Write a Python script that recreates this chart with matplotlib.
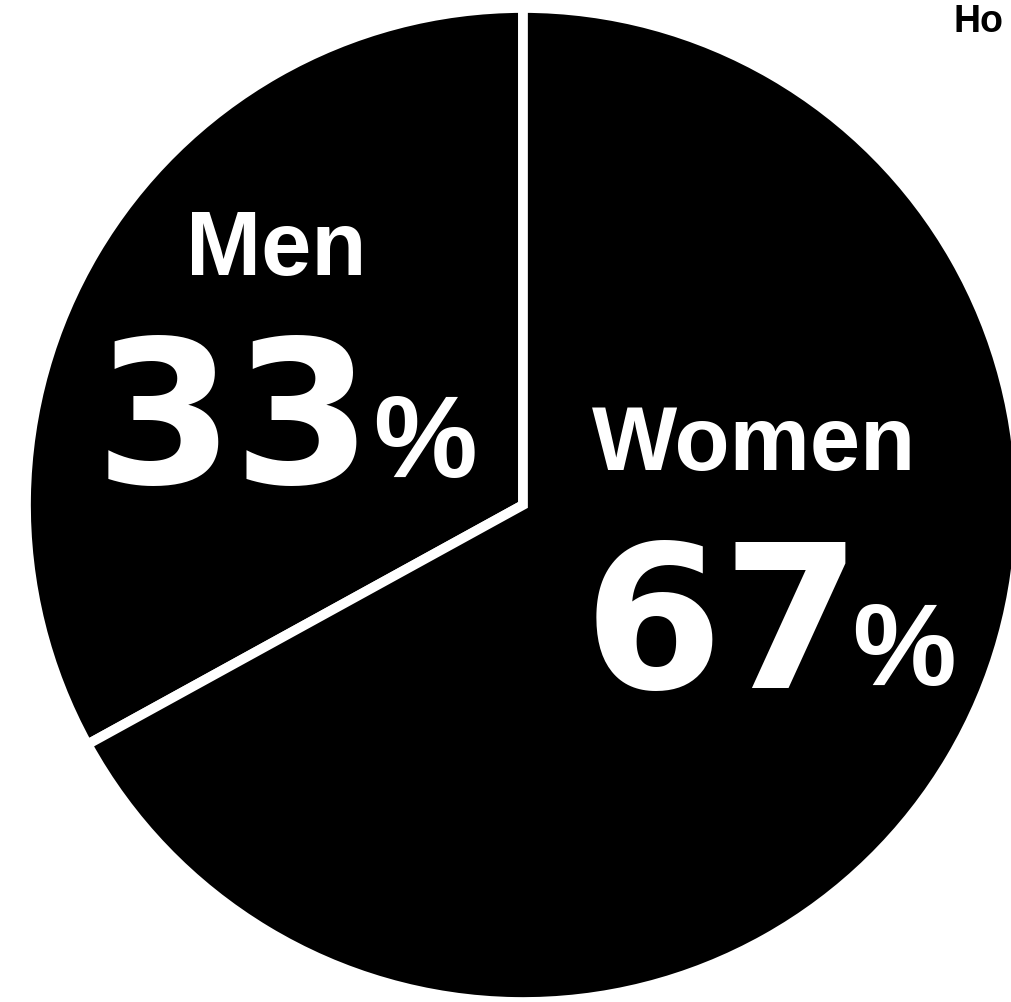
import numpy as np
import matplotlib
matplotlib.use('Agg')
import matplotlib.pyplot as plt

# Share of respondents
groups = ['Men', 'Women']
shares = [33, 67]

W, H = 1011, 1002
fig = plt.figure(figsize=(W / 100, H / 100), dpi=100)
ax = fig.add_axes([0, 0, 1, 1])
ax.set_xlim(0, W)
ax.set_ylim(0, H)
ax.set_aspect('equal')
ax.axis('off')

cx, cy, r = 523, H - 505, 497
ax.pie(shares, startangle=90, counterclock=True, center=(cx, cy), radius=r,
       colors=['black', 'black'], frame=True,
       wedgeprops=dict(edgecolor='white', linewidth=7, joinstyle='miter'))
ax.set_xlim(0, W)
ax.set_ylim(0, H)
ax.axis('off')

word = dict(family='Liberation Sans', weight='bold', color='white', fontsize=65,
            ha='left', va='baseline')
num = dict(family='DejaVu Sans', weight='bold', color='white', fontsize=144,
           ha='left', va='baseline')
pct = dict(family='Liberation Sans', weight='bold', color='white', fontsize=84,
           ha='left', va='baseline')

# Men
ax.text(186, H - 275, groups[0], **word)
ax.text(95, H - 483, '{:d}'.format(shares[0]), **num)
ax.text(373, H - 477, '%', **pct)

# Women
ax.text(592, H - 470, groups[1], **word)
ax.text(584, H - 688, '{:d}'.format(shares[1]), **num)
ax.text(852, H - 685, '%', **pct)

# cut-off heading at top right
ax.text(953, H - 32, 'Ho', family='Liberation Sans', weight='bold',
        fontsize=27, color='black', ha='left', va='baseline')

fig.savefig('out.png', dpi=100, facecolor='white')
